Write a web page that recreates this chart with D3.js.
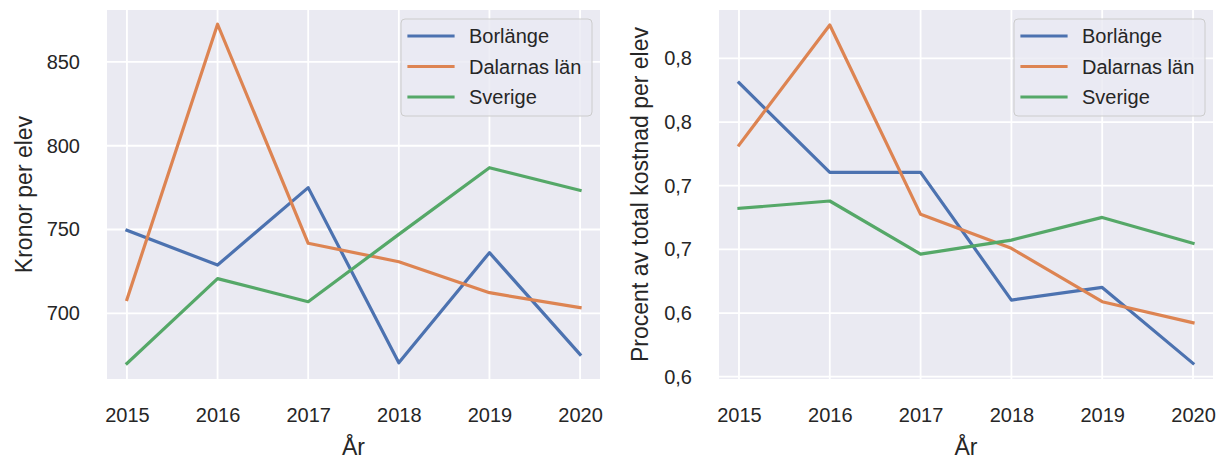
<!DOCTYPE html>
<html>
<head>
<meta charset="utf-8">
<script src="https://cdn.jsdelivr.net/npm/d3@7"></script>
<style>
  body { margin: 0; background: #fff; }
  text { font-family: "Liberation Sans", Arial, sans-serif; fill: #262626; }
</style>
</head>
<body>
<svg id="chart"></svg>
<script>
// data
var years = [2015, 2016, 2017, 2018, 2019, 2020];
var seriesNames = ["Borlänge", "Dalarnas län", "Sverige"];

// left: kronor per elev
var kronorBorlange = [749.5, 728.8, 775.0, 670.5, 736.2, 675.5];
var kronorDalarna  = [708.3, 872.5, 741.8, 730.8, 712.3, 703.4];
var kronorSverige  = [670.1, 720.7, 706.9, 747.1, 786.9, 773.4];
var kronorTicks = [700, 750, 800, 850];
var kronorTickLabels = ["700", "750", "800", "850"];

// right: procent av total kostnad per elev
var procentBorlange = [0.8309, 0.7605, 0.7605, 0.6602, 0.6701, 0.6105];
var procentDalarna  = [0.7819, 0.8762, 0.7275, 0.7008, 0.6589, 0.6424];
var procentSverige  = [0.7322, 0.7380, 0.6963, 0.7073, 0.7251, 0.7047];
var procentTicks = [0.60, 0.65, 0.70, 0.75, 0.80, 0.85];
var procentTickLabels = ["0,6", "0,6", "0,7", "0,7", "0,8", "0,8"];

var colors = ["#4c72b0", "#dd8452", "#55a868"];

var W = 1222, H = 459;
var svg = d3.select("#chart").attr("width", W).attr("height", H);

var panels = [
  { left: 107, right: 600, series: [kronorBorlange, kronorDalarna, kronorSverige],
    ydom: [660.8, 881.0], ticks: kronorTicks, labels: kronorTickLabels,
    ylabel: "Kronor per elev", ylabelX: 24, legendX: 401 },
  { left: 719, right: 1213, series: [procentBorlange, procentDalarna, procentSverige],
    ydom: [0.5982, 0.888], ticks: procentTicks, labels: procentTickLabels,
    ylabel: "Procent av total kostnad per elev", ylabelX: 640, legendX: 1014 }
];
var plotTop = 10, plotBottom = 379;

panels.forEach(function(p) {
  var x = d3.scaleLinear().domain([2014.78, 2020.22]).range([p.left, p.right]);
  var y = d3.scaleLinear().domain(p.ydom).range([plotBottom, plotTop]);
  var g = svg.append("g");

  g.append("rect")
    .attr("x", p.left).attr("y", plotTop)
    .attr("width", p.right - p.left).attr("height", plotBottom - plotTop)
    .attr("fill", "#eaeaf2");

  // grid
  g.selectAll(".vgrid").data(years).enter().append("line")
    .attr("x1", d => x(d)).attr("x2", d => x(d))
    .attr("y1", plotTop).attr("y2", plotBottom)
    .attr("stroke", "#fff").attr("stroke-width", 1.8);
  g.selectAll(".hgrid").data(p.ticks).enter().append("line")
    .attr("x1", p.left).attr("x2", p.right)
    .attr("y1", d => y(d)).attr("y2", d => y(d))
    .attr("stroke", "#fff").attr("stroke-width", 1.8);

  // axes (no domain, no tick marks)
  var xAxis = d3.axisBottom(x).tickValues(years).tickFormat(d3.format("d")).tickSize(0).tickPadding(29);
  var ax = g.append("g").attr("transform", "translate(0," + plotBottom + ")").call(xAxis);
  var yAxis = d3.axisLeft(y).tickValues(p.ticks)
    .tickFormat((d, i) => p.labels[i]).tickSize(0).tickPadding(27);
  var ay = g.append("g").attr("transform", "translate(" + p.left + ",0)").call(yAxis);
  [ax, ay].forEach(function(a) {
    a.select(".domain").remove();
    a.selectAll("text").style("font-size", "20px").attr("fill", "#262626")
      .style("font-family", '"Liberation Sans", Arial, sans-serif');
  });

  g.append("text")
    .attr("x", (p.left + p.right) / 2).attr("y", 455)
    .attr("text-anchor", "middle").style("font-size", "23px")
    .text("År");
  g.append("text")
    .attr("transform", "translate(" + p.ylabelX + "," + ((plotTop + plotBottom) / 2) + ") rotate(-90)")
    .attr("text-anchor", "middle").attr("dy", "0.35em").style("font-size", "23px")
    .text(p.ylabel);

  // lines
  var line = d3.line().x((d, i) => x(years[i])).y(d => y(d));
  p.series.forEach(function(s, k) {
    g.append("path").datum(s)
      .attr("d", line).attr("fill", "none")
      .attr("stroke", colors[k]).attr("stroke-width", 3.2)
      .attr("stroke-linecap", "square").attr("stroke-linejoin", "round");
  });

  // legend
  var lg = g.append("g").attr("transform", "translate(" + p.legendX + ",19)");
  lg.append("rect")
    .attr("width", 191).attr("height", 97).attr("rx", 4)
    .attr("fill", "#eaeaf2").attr("fill-opacity", 0.8)
    .attr("stroke", "#cccccc").attr("stroke-width", 1);
  var rows = lg.selectAll(".row").data(seriesNames).enter().append("g")
    .attr("transform", (d, i) => "translate(0," + (17 + i * 30.5) + ")");
  rows.append("line")
    .attr("x1", 8).attr("x2", 52)
    .attr("stroke", (d, i) => colors[i]).attr("stroke-width", 3.2)
    .attr("stroke-linecap", "square");
  rows.append("text")
    .attr("x", 68).attr("dy", "0.35em").style("font-size", "20px")
    .text(d => d);
});
</script>
</body>
</html>
